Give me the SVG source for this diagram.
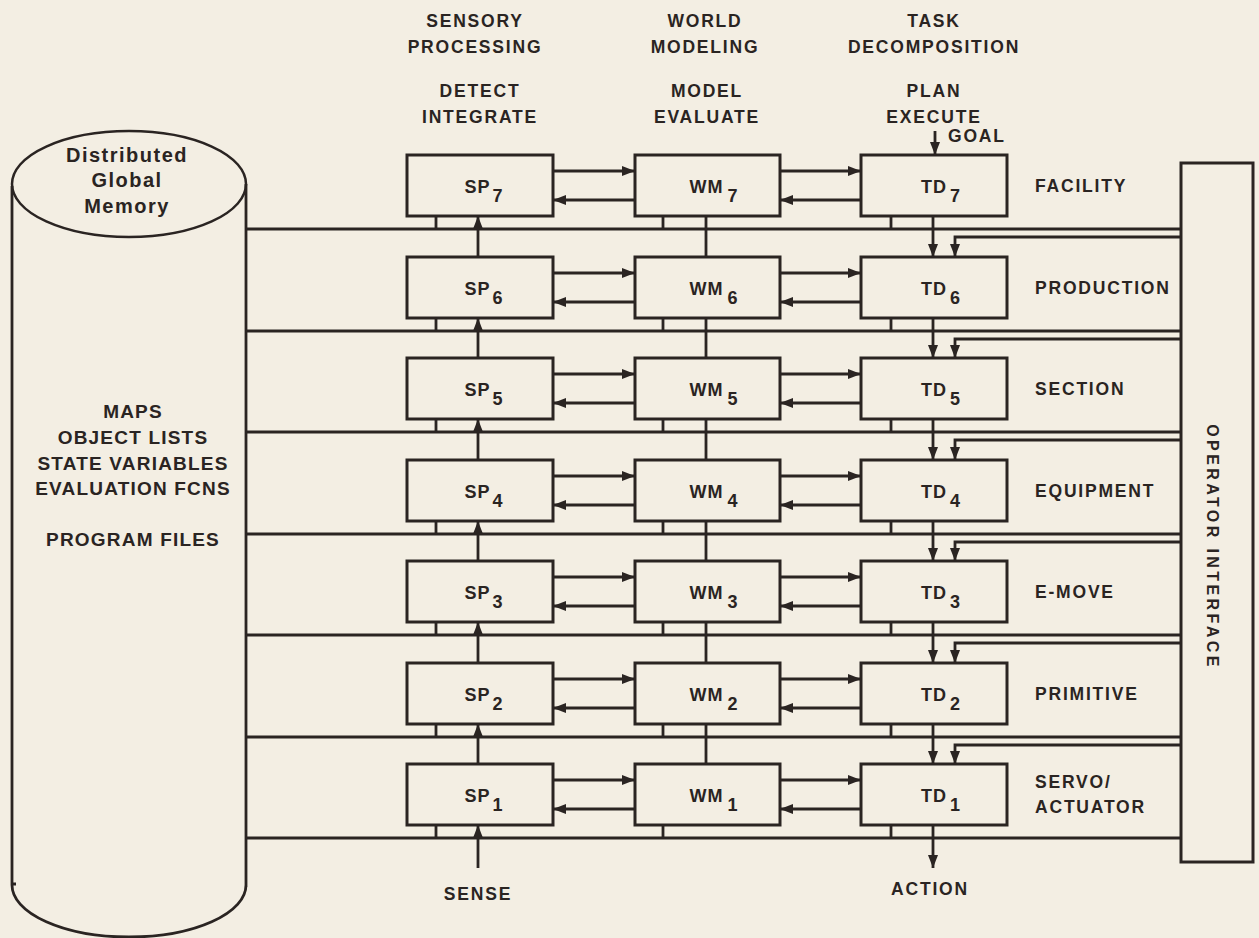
<svg xmlns="http://www.w3.org/2000/svg" width="1259" height="938" viewBox="0 0 1259 938">
<style>
.ln{stroke:#2a2422;stroke-width:2.8;fill:none}
.bus{stroke:#2a2422;stroke-width:3;fill:none}
.box{fill:none;stroke:#2a2422;stroke-width:3}
text{font-family:"Liberation Sans",Arial,Helvetica,sans-serif;font-weight:bold;fill:#2a2422}
.h{font-size:17.5px;letter-spacing:1.8px;text-anchor:middle}
.r{font-size:17.5px;letter-spacing:1.8px}
.n{font-size:18px;letter-spacing:1px;text-anchor:middle}
.m{font-size:19px;letter-spacing:1.2px;text-anchor:middle}
.c{font-size:20px;letter-spacing:1.5px;text-anchor:middle}
.oi{font-size:16px;letter-spacing:3.4px;text-anchor:middle}
</style>
<defs>
<marker id="ah" markerUnits="userSpaceOnUse" markerWidth="14" markerHeight="11" refX="13" refY="5" orient="auto">
<path d="M0,0 L13,5 L0,10 z" fill="#2a2422"/>
</marker>
</defs>
<rect x="0" y="0" width="1259" height="938" fill="#f3eee3"/>

<g id="headers">
<text class="h" x="475" y="27">SENSORY</text>
<text class="h" x="475" y="53">PROCESSING</text>
<text class="h" x="480" y="97">DETECT</text>
<text class="h" x="480" y="123">INTEGRATE</text>
<text class="h" x="705" y="27">WORLD</text>
<text class="h" x="705" y="53">MODELING</text>
<text class="h" x="707" y="97">MODEL</text>
<text class="h" x="707" y="123">EVALUATE</text>
<text class="h" x="934" y="27">TASK</text>
<text class="h" x="934" y="53">DECOMPOSITION</text>
<text class="h" x="934" y="97">PLAN</text>
<text class="h" x="934" y="123">EXECUTE</text>
<text class="r" x="948" y="142">GOAL</text>
<text class="h" x="478" y="900">SENSE</text>
<text class="h" x="930" y="895">ACTION</text>
</g>

<g id="level-labels">
<text class="r" x="1035" y="192">FACILITY</text>
<text class="r" x="1035" y="294">PRODUCTION</text>
<text class="r" x="1035" y="395">SECTION</text>
<text class="r" x="1035" y="497">EQUIPMENT</text>
<text class="r" x="1035" y="598">E-MOVE</text>
<text class="r" x="1035" y="700">PRIMITIVE</text>
<text class="r" x="1035" y="788">SERVO/</text>
<text class="r" x="1035" y="813">ACTUATOR</text>
</g>

<g id="memory">
<ellipse cx="129" cy="184" rx="117" ry="53" fill="none" stroke="#2a2422" stroke-width="2.5"/>
<path class="ln" d="M12,186 V885 M246,184 V887 M12,885 A117,52 0 0 0 246,885 M12,884 h4" stroke-width="2.5"/>
<text class="c" x="127" y="162">Distributed</text>
<text class="c" x="127" y="187">Global</text>
<text class="c" x="127" y="213">Memory</text>
<text class="m" x="133" y="418">MAPS</text>
<text class="m" x="133" y="444">OBJECT LISTS</text>
<text class="m" x="133" y="470">STATE VARIABLES</text>
<text class="m" x="133" y="495">EVALUATION FCNS</text>
<text class="m" x="133" y="546">PROGRAM FILES</text>
</g>

<g id="operator-interface">
<rect class="box" x="1181" y="163" width="72" height="699"/>
<text class="oi" transform="translate(1207,547) rotate(90)">OPERATOR INTERFACE</text>
</g>

<g id="sp7"><rect class="box" x="407" y="155" width="146" height="61"/><text class="n" x="484" y="193">SP<tspan dx="2" dy="9">7</tspan></text></g>
<g id="wm7"><rect class="box" x="635" y="155" width="145" height="61"/><text class="n" x="714" y="193">WM<tspan dx="4" dy="9">7</tspan></text></g>
<g id="td7"><rect class="box" x="861" y="155" width="146" height="61"/><text class="n" x="941" y="193">TD<tspan dx="3" dy="9">7</tspan></text></g>

<g id="sp6"><rect class="box" x="407" y="257" width="146" height="61"/><text class="n" x="484" y="295">SP<tspan dx="2" dy="9">6</tspan></text></g>
<g id="wm6"><rect class="box" x="635" y="257" width="145" height="61"/><text class="n" x="714" y="295">WM<tspan dx="4" dy="9">6</tspan></text></g>
<g id="td6"><rect class="box" x="861" y="257" width="146" height="61"/><text class="n" x="941" y="295">TD<tspan dx="3" dy="9">6</tspan></text></g>

<g id="sp5"><rect class="box" x="407" y="358" width="146" height="61"/><text class="n" x="484" y="396">SP<tspan dx="2" dy="9">5</tspan></text></g>
<g id="wm5"><rect class="box" x="635" y="358" width="145" height="61"/><text class="n" x="714" y="396">WM<tspan dx="4" dy="9">5</tspan></text></g>
<g id="td5"><rect class="box" x="861" y="358" width="146" height="61"/><text class="n" x="941" y="396">TD<tspan dx="3" dy="9">5</tspan></text></g>

<g id="sp4"><rect class="box" x="407" y="460" width="146" height="61"/><text class="n" x="484" y="498">SP<tspan dx="2" dy="9">4</tspan></text></g>
<g id="wm4"><rect class="box" x="635" y="460" width="145" height="61"/><text class="n" x="714" y="498">WM<tspan dx="4" dy="9">4</tspan></text></g>
<g id="td4"><rect class="box" x="861" y="460" width="146" height="61"/><text class="n" x="941" y="498">TD<tspan dx="3" dy="9">4</tspan></text></g>

<g id="sp3"><rect class="box" x="407" y="561" width="146" height="61"/><text class="n" x="484" y="599">SP<tspan dx="2" dy="9">3</tspan></text></g>
<g id="wm3"><rect class="box" x="635" y="561" width="145" height="61"/><text class="n" x="714" y="599">WM<tspan dx="4" dy="9">3</tspan></text></g>
<g id="td3"><rect class="box" x="861" y="561" width="146" height="61"/><text class="n" x="941" y="599">TD<tspan dx="3" dy="9">3</tspan></text></g>

<g id="sp2"><rect class="box" x="407" y="663" width="146" height="61"/><text class="n" x="484" y="701">SP<tspan dx="2" dy="9">2</tspan></text></g>
<g id="wm2"><rect class="box" x="635" y="663" width="145" height="61"/><text class="n" x="714" y="701">WM<tspan dx="4" dy="9">2</tspan></text></g>
<g id="td2"><rect class="box" x="861" y="663" width="146" height="61"/><text class="n" x="941" y="701">TD<tspan dx="3" dy="9">2</tspan></text></g>

<g id="sp1"><rect class="box" x="407" y="764" width="146" height="61"/><text class="n" x="484" y="802">SP<tspan dx="2" dy="9">1</tspan></text></g>
<g id="wm1"><rect class="box" x="635" y="764" width="145" height="61"/><text class="n" x="714" y="802">WM<tspan dx="4" dy="9">1</tspan></text></g>
<g id="td1"><rect class="box" x="861" y="764" width="146" height="61"/><text class="n" x="941" y="802">TD<tspan dx="3" dy="9">1</tspan></text></g>

<g id="connectors">
<path class="bus" d="M246,229 H1181 M246,331 H1181 M246,432 H1181 M246,534 H1181 M246,635 H1181 M246,737 H1181 M246,838 H1181"/>
<path class="ln" d="M436,216 V229 M663,216 V229 M891,216 V229 M436,318 V331 M663,318 V331 M891,318 V331 M436,419 V432 M663,419 V432 M891,419 V432 M436,521 V534 M663,521 V534 M891,521 V534 M436,622 V635 M663,622 V635 M891,622 V635 M436,724 V737 M663,724 V737 M891,724 V737 M436,825 V838 M663,825 V838 M891,825 V838"/>
<path class="ln" d="M706,257 V216 M706,358 V318 M706,460 V419 M706,561 V521 M706,663 V622 M706,764 V724"/>
<g class="ln" marker-end="url(#ah)">
<path d="M553,171 H635"/><path d="M635,200 H553"/><path d="M780,171 H861"/><path d="M861,200 H780"/>
<path d="M553,273 H635"/><path d="M635,302 H553"/><path d="M780,273 H861"/><path d="M861,302 H780"/>
<path d="M553,374 H635"/><path d="M635,403 H553"/><path d="M780,374 H861"/><path d="M861,403 H780"/>
<path d="M553,476 H635"/><path d="M635,505 H553"/><path d="M780,476 H861"/><path d="M861,505 H780"/>
<path d="M553,577 H635"/><path d="M635,606 H553"/><path d="M780,577 H861"/><path d="M861,606 H780"/>
<path d="M553,679 H635"/><path d="M635,708 H553"/><path d="M780,679 H861"/><path d="M861,708 H780"/>
<path d="M553,780 H635"/><path d="M635,809 H553"/><path d="M780,780 H861"/><path d="M861,809 H780"/>
<path d="M478,257 V216"/><path d="M478,358 V318"/><path d="M478,460 V419"/><path d="M478,561 V521"/><path d="M478,663 V622"/><path d="M478,764 V724"/>
<path d="M478,868 V825"/>
<path d="M935,131 V155"/>
<path d="M933,216 V257"/><path d="M933,318 V358"/><path d="M933,419 V460"/><path d="M933,521 V561"/><path d="M933,622 V663"/><path d="M933,724 V764"/>
<path d="M933,825 V868"/>
<path d="M1181,237 H955 V257"/><path d="M1181,339 H955 V358"/><path d="M1181,440 H955 V460"/><path d="M1181,542 H955 V561"/><path d="M1181,643 H955 V663"/><path d="M1181,745 H955 V764"/>
</g>
</g>
</svg>
